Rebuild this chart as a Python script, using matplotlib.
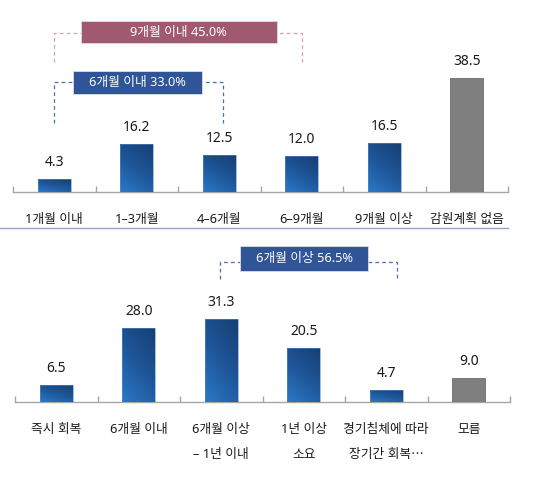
import matplotlib
matplotlib.use("Agg")
import matplotlib.pyplot as plt
import numpy as np
from matplotlib.colors import LinearSegmentedColormap
from matplotlib.patches import Rectangle
from matplotlib.lines import Line2D

plt.rcParams['font.family'] = ['Noto Sans', 'Noto Sans CJK KR', 'DejaVu Sans']

# ---- data ----
top_categories = ['1개월 이내', '1–3개월', '4–6개월', '6–9개월', '9개월 이상', '감원계획 없음']
top_values = [4.3, 16.2, 12.5, 12.0, 16.5, 38.5]
top_gray = [False, False, False, False, False, True]

bottom_categories = ['즉시 회복', '6개월 이내', '6개월 이상\n– 1년 이내', '1년 이상\n소요',
                     '경기침체에 따라\n장기간 회복⋯', '모름']
bottom_values = [6.5, 28.0, 31.3, 20.5, 4.7, 9.0]
bottom_gray = [False, False, False, False, False, True]

W, H = 539, 483
fig = plt.figure(figsize=(W / 100, H / 100), dpi=100)

blue_cmap = LinearSegmentedColormap.from_list('b', ['#2B78C6', '#1E5699', '#173F73'])
GRAY = '#7F7F7F'
AXIS = '#A6A6A6'
TEXT = '#1A1A1A'


def draw_bars(ax, cats, vals, grays):
    n = len(cats)
    x = np.arange(n)
    bars = ax.bar(x, vals, width=0.4, color='none', edgecolor='none', zorder=2)
    for b, v, g in zip(bars, vals, grays):
        x0, w, h = b.get_x(), b.get_width(), b.get_height()
        if g:
            ax.add_patch(Rectangle((x0, 0), w, h, facecolor=GRAY, edgecolor='#6E6E6E',
                                   linewidth=0.6, zorder=3))
        else:
            gx, gy = np.meshgrid(np.linspace(0, 1, 40), np.linspace(0, 1, 80))
            z = 0.35 * gx + 0.65 * gy
            im = ax.imshow(z, cmap=blue_cmap, vmin=0, vmax=1, origin='lower',
                           extent=(x0, x0 + w, 0, h), aspect='auto', zorder=3,
                           interpolation='bilinear')
            rect = Rectangle((x0, 0), w, h, facecolor='none', edgecolor='none')
            ax.add_patch(rect)
            im.set_clip_path(rect)
            ax.add_patch(Rectangle((x0, 0), w, h, facecolor='none', edgecolor='#5B8FCC',
                                   linewidth=0.4, zorder=4))
        ax.annotate(f'{v:.1f}', (b.get_x() + w / 2, h), xytext=(0, 6.5),
                    textcoords='offset points', ha='center', va='bottom',
                    fontsize=10, color=TEXT, fontweight='medium')
    ax.set_xlim(-0.5, n - 0.5)
    for s in ['top', 'left', 'right']:
        ax.spines[s].set_visible(False)
    ax.spines['bottom'].set_color(AXIS)
    ax.spines['bottom'].set_linewidth(1.0)
    ax.set_yticks([])
    ax.set_xticks(x)
    ax.set_xticklabels(cats, fontsize=9.2, color=TEXT, linespacing=2.25,
                       fontweight='medium')
    ax.tick_params(axis='x', which='major', length=0, pad=15)
    ax.set_xticks(np.arange(-0.5, n, 1.0), minor=True)
    ax.tick_params(axis='x', which='minor', direction='in', length=4, width=1.0, color=AXIS)
    ax.patch.set_alpha(0)


def bracket(ax, x0, x1, y, ydrop, color):
    ax.add_line(Line2D([x0, x0, x1, x1], [ydrop, y, y, ydrop], color=color,
                       linestyle=(0, (3, 2.5)), linewidth=0.9, zorder=1))


def label_box(ax, x0, x1, y0, y1, text, color):
    ax.add_patch(Rectangle((x0, y0), x1 - x0, y1 - y0, facecolor=color,
                           edgecolor='#DDDDDD', linewidth=0.6, zorder=5))
    ax.text((x0 + x1) / 2, (y0 + y1) / 2, text, ha='center', va='center',
            color='white', fontsize=9.2, fontweight='medium', zorder=6)


# ---- top chart ----
ax1 = fig.add_axes([13 / W, 1 - 192 / H, 495 / W, 192 / H])
ax1.set_ylim(0, 192 / 2.96)
draw_bars(ax1, top_categories, top_values, top_gray)
bracket(ax1, 0.0, 3.0, 53.7, 43.9, '#D9A0B0')
label_box(ax1, 0.32, 2.70, 50.3, 57.8, '9개월 이내 45.0%', '#A0596F')
bracket(ax1, 0.0, 2.05, 37.2, 23.3, '#4A6FA8')
label_box(ax1, 0.23, 1.79, 33.1, 40.9, '6개월 이내 33.0%', '#2F5597')

# ---- bottom chart ----
ax2 = fig.add_axes([15 / W, 1 - 402 / H, 495 / W, 170 / H])
ax2.set_ylim(0, 170 / 2.65)
draw_bars(ax2, bottom_categories, bottom_values, bottom_gray)
bracket(ax2, 1.99, 4.13, 52.8, 46.4, '#4A6FA8')
label_box(ax2, 2.23, 3.78, 49.4, 58.9, '6개월 이상 56.5%', '#2F5597')

# separator line
fig.add_artist(Line2D([0, 508 / W], [1 - 228 / H, 1 - 228 / H], color='#8FA5BF',
                      linewidth=1.0, transform=fig.transFigure))

fig.savefig('out.png', dpi=100)
